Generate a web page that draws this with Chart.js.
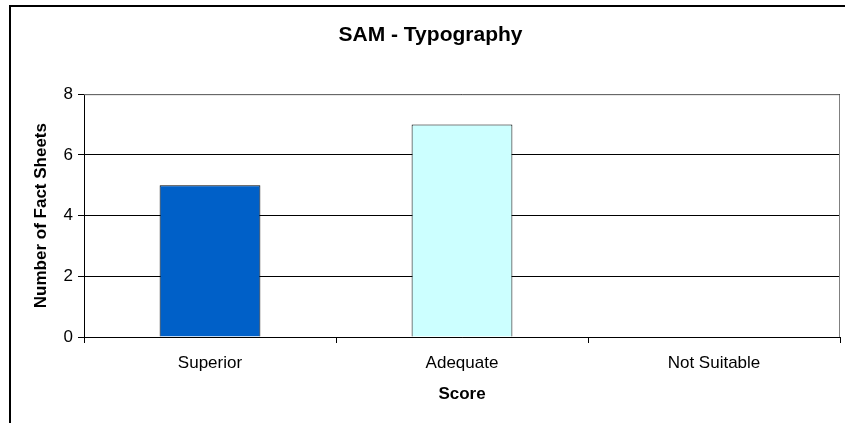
<!DOCTYPE html>
<html>
<head>
<meta charset="utf-8">
<script src="https://cdn.jsdelivr.net/npm/chart.js@4"></script>
<style>
  html, body { margin: 0; padding: 0; background: #fff; }
  #wrap { width: 845px; height: 423px; }
</style>
</head>
<body>
<div id="wrap"><canvas id="c" width="845" height="423"></canvas></div>
<script>
// values
const categories = ['Superior', 'Adequate', 'Not Suitable'];
const factSheets = [5, 7, 0];
const barColors = ['#0060C8', '#CCFFFF', '#CCFFFF'];
const yTicks = [0, 2, 4, 6, 8];

// frame round the whole chart + grey plot border (Excel look)
const framePlugin = {
  id: 'frame',
  beforeDraw(chart) {
    const ctx = chart.ctx;
    ctx.save();
    ctx.strokeStyle = '#000';
    ctx.lineWidth = 2;
    ctx.beginPath();
    ctx.moveTo(10, 430);
    ctx.lineTo(10, 6);
    ctx.lineTo(850, 6);
    ctx.stroke();
    ctx.restore();
  },
  afterDatasetsDraw(chart) {
    const a = chart.chartArea;
    const ctx = chart.ctx;
    ctx.save();
    ctx.strokeStyle = '#808080';
    ctx.lineWidth = 1;
    ctx.beginPath();
    ctx.moveTo(a.left, a.top + 0.5);
    ctx.lineTo(a.right - 0.5, a.top + 0.5);
    ctx.lineTo(a.right - 0.5, a.bottom);
    ctx.stroke();
    ctx.restore();
  }
};

new Chart(document.getElementById('c'), {
  type: 'bar',
  data: {
    labels: categories,
    datasets: [{
      data: factSheets,
      backgroundColor: barColors,
      borderColor: '#000',
      borderWidth: 1,
      barPercentage: 0.4,
      categoryPercentage: 1
    }]
  },
  options: {
    responsive: false,
    animation: false,
    layout: { padding: { left: 21, right: 5, top: 0, bottom: 0 } },
    plugins: {
      legend: { display: false },
      tooltip: { enabled: false },
      title: {
        display: true,
        text: 'SAM - Typography',
        color: '#000',
        font: { family: 'Arial, "Liberation Sans", sans-serif', size: 21, weight: 'bold' },
        padding: { top: 23, bottom: 46 }
      }
    },
    scales: {
      x: {
        offset: true,
        grid: { display: true, offset: true, drawOnChartArea: false, drawTicks: true, tickLength: 6, color: '#000' },
        border: { display: true, color: '#000', width: 1 },
        ticks: {
          color: '#000',
          padding: 10,
          font: { family: 'Arial, "Liberation Sans", sans-serif', size: 17 }
        },
        title: {
          display: true,
          text: 'Score',
          color: '#000',
          font: { family: 'Arial, "Liberation Sans", sans-serif', size: 17, weight: 'bold' },
          padding: { top: 0, bottom: 18 }
        },
        afterFit(scale) { scale.height = 86; }
      },
      y: {
        min: 0,
        max: 8,
        grid: { color: '#000', tickLength: 6, drawTicks: true },
        border: { display: true, color: '#000', width: 1 },
        ticks: {
          color: '#000',
          padding: 5,
          stepSize: 2,
          font: { family: 'Arial, "Liberation Sans", sans-serif', size: 17 }
        },
        afterBuildTicks(scale) { scale.ticks = yTicks.map(v => ({ value: v })); },
        title: {
          display: true,
          text: 'Number of Fact Sheets',
          color: '#000',
          font: { family: 'Arial, "Liberation Sans", sans-serif', size: 17, weight: 'bold' },
          padding: { top: 10, bottom: 0 }
        },
        afterFit(scale) { scale.width = 63; }
      }
    }
  },
  plugins: [framePlugin]
});
</script>
</body>
</html>
